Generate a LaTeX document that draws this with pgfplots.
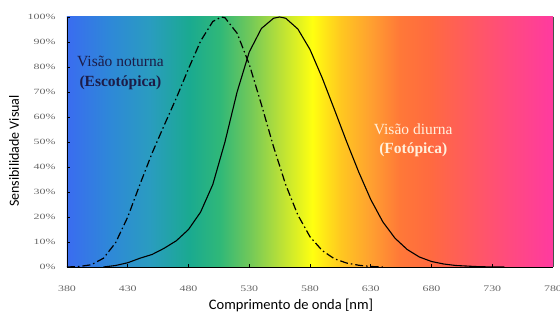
\documentclass[border=0pt]{standalone}
\usepackage{pgfplots}
\pgfplotsset{compat=1.18}
\usepackage{fontspec}
\setmainfont{Liberation Serif}
\newfontfamily\labfont{Carlito}
\definecolor{c380}{HTML}{3A6CF0}
\definecolor{c415}{HTML}{2E88D8}
\definecolor{c448}{HTML}{2A9CC0}
\definecolor{c481}{HTML}{1AAA90}
\definecolor{c506}{HTML}{30B878}
\definecolor{c530}{HTML}{70C85A}
\definecolor{c555}{HTML}{B8E038}
\definecolor{c582}{HTML}{FFFF10}
\definecolor{c605}{HTML}{FFC820}
\definecolor{c630}{HTML}{FFA030}
\definecolor{c654}{HTML}{FF7838}
\definecolor{c679}{HTML}{FF6A40}
\definecolor{c712}{HTML}{FF5A60}
\definecolor{c745}{HTML}{FF4A80}
\definecolor{c780}{HTML}{FF3AA0}
\definecolor{navytext}{HTML}{1C1C48}
\definecolor{creamtext}{HTML}{FFF0DC}
\pgfdeclarehorizontalshading{spectrum}{100bp}{
color(0bp)=(c380); color(25bp)=(c380); color(29.375bp)=(c415);
color(33.5bp)=(c448); color(37.625bp)=(c481); color(40.75bp)=(c506);
color(43.75bp)=(c530); color(46.875bp)=(c555); color(50.25bp)=(c582);
color(53.125bp)=(c605); color(56.25bp)=(c630); color(59.25bp)=(c654);
color(62.375bp)=(c679); color(66.5bp)=(c712); color(70.625bp)=(c745);
color(75bp)=(c780); color(100bp)=(c780)}
\begin{document}
\begin{tikzpicture}
\begin{axis}[
  scale only axis,
  width=486pt, height=250pt,
  xmin=380, xmax=780, ymin=0, ymax=100,
  axis x line*=bottom, axis y line*=left,
  axis line style={black, line width=0.8pt},
  axis background/.style={shading=spectrum},
  xtick={380,430,...,780},
  ytick={0,10,...,100},
  yticklabels={0\%,10\%,20\%,30\%,40\%,50\%,60\%,70\%,80\%,90\%,100\%},
  xticklabel style={font=\fontsize{8.5}{9}\selectfont, text=black!60, xscale=1.4, yshift=-15pt},
  yticklabel style={font=\fontsize{8}{9}\selectfont, text=black!60, xscale=1.5, xshift=-4pt},
  /pgf/number format/assume math mode=true,
  /pgf/number format/1000 sep={},
  tick style={black, line width=0.7pt},
  major tick length=3pt,
  tick align=inside,
  clip=false,
]
\addplot[black, line width=1.2pt, dash pattern=on 8pt off 3pt on 1.5pt off 3pt] coordinates {
(380,0) (390,0.2) (400,0.9) (410,3.5) (420,9.7) (430,20) (440,33) (450,45.5)
(460,56.7) (470,67.6) (480,79.3) (490,90.4) (500,98.2) (507,100) (510,99.7)
(520,93.5) (530,81.1) (540,65) (550,48.1) (560,32.9) (570,20.8) (580,12.1)
(590,6.6) (600,3.3) (610,1.6) (620,0.7) (630,0.2) (640,0)};
\addplot[black, line width=1.1pt] coordinates {
(410,0) (420,0.6) (430,1.7) (440,3.5) (450,5) (460,7.5) (470,10.5) (480,15)
(490,22) (500,33) (510,50) (520,70) (530,86) (540,95.4) (550,99.5) (555,100)
(560,99.5) (570,95.2) (580,87) (590,75.7) (600,63.1) (610,50.3) (620,38.1)
(630,27) (640,18) (650,11.5) (660,7) (670,4) (680,2.2) (690,1.2) (700,0.6)
(720,0.1) (740,0)};
\draw[black!70, line width=0.6pt] (rel axis cs:1,0) -- (rel axis cs:1,1);
\node[align=center, text=navytext, font=\fontsize{15.5}{20}\selectfont] at (axis cs:424,77.8)
  {Visão noturna\\\textbf{(Escotópica)}};
\node[align=center, text=creamtext, font=\fontsize{15.5}{19}\selectfont] at (axis cs:665,50.6)
  {Visão diurna\\\textbf{(Fotópica)}};
\node[font=\labfont\fontsize{14.5}{16}\selectfont] at ([yshift=-38pt]rel axis cs:0.461,0) {Comprimento de onda [nm]};
\node[font=\labfont\fontsize{14}{16}\selectfont, rotate=90] at ([xshift=-53pt]rel axis cs:0,0.464) {Sensibilidade Visual};
\end{axis}
\pgfresetboundingbox
\path[use as bounding box] (current axis.south west) ++(-67pt,-53pt) rectangle ++(560pt,320pt);
\end{tikzpicture}
\end{document}
